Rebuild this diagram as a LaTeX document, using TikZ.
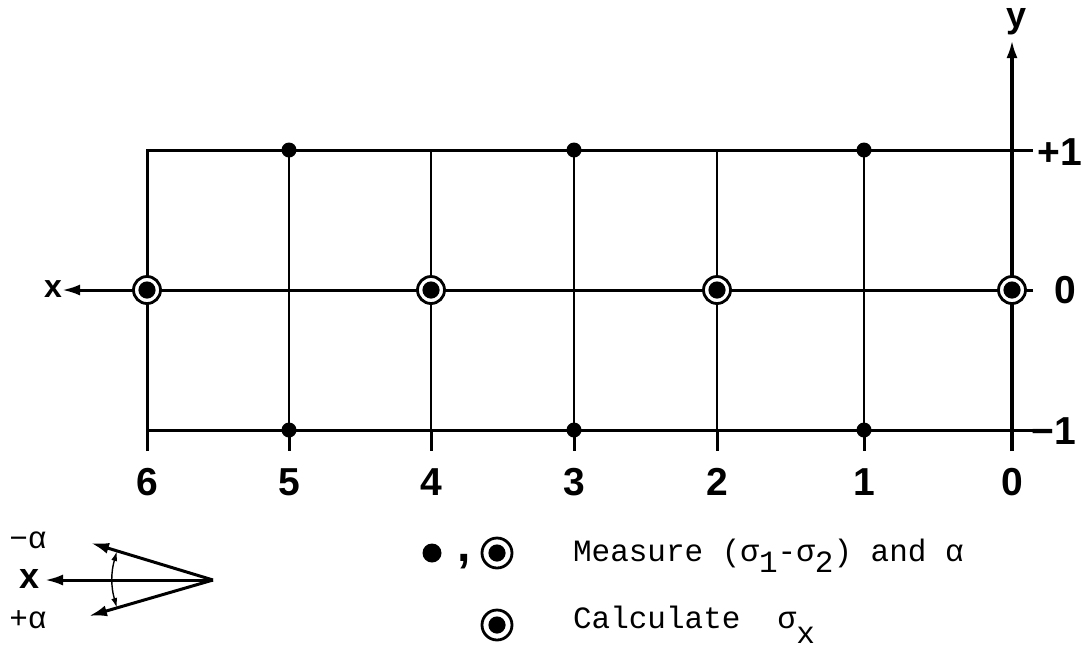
\documentclass[tikz,border=0pt]{standalone}
\usepackage{fontspec}
\setsansfont{Liberation Sans}
\setmonofont{Liberation Mono}
\usetikzlibrary{arrows.meta}

\tikzset{
  axis/.style={line width=1.7pt},
  frame/.style={line width=1.5pt},
  gridline/.style={line width=0.7pt},
  meas/.style={circle,fill,inner sep=0pt,minimum size=7.5pt},
  calcpt/.style={circle,draw,fill=white,line width=1.4pt,inner sep=0pt,minimum size=13.5pt,
    path picture={\fill[black] (path picture bounding box.center) circle (4.3pt);}},
  numlabel/.style={font=\sffamily\bfseries\fontsize{19.5}{19.5}\selectfont},
  axlabel/.style={font=\sffamily\bfseries\fontsize{16}{16}\selectfont},
  legtext/.style={font=\ttfamily\fontsize{15.5}{15.5}\selectfont,anchor=west},
}

\begin{document}
\begin{tikzpicture}[>={Latex[length=9pt,width=5.5pt]},x=0.5pt,y=-0.5pt]
  \useasboundingbox (0,0) rectangle (1088,655);

  \foreach \n/\xp in {6/147,5/289,4/431,3/574,2/717,1/864,0/1012} {
    \coordinate (t\n) at (\xp,150);
    \coordinate (m\n) at (\xp,290);
    \coordinate (b\n) at (\xp,430);
    \coordinate (k\n) at (\xp,451);
    \node[numlabel] (n\n) at (\xp,482) {\n};
  }
  \coordinate (tr) at (1033,150);
  \coordinate (mr) at (1033,290);
  \coordinate (br) at (1033,430);
  \coordinate (xtip) at (62,290);
  \coordinate (ytip) at (1012,40);

  % grid
  \foreach \n in {5,4,3,2,1} {
    \draw[gridline] (t\n) -- (b\n);
    \draw[frame] (b\n) -- (k\n);
  }
  \draw[frame] (k6) -- (t6) -- (tr);
  \draw[frame] (b6) -- (br);
  \draw[->,frame] (mr) -- (xtip);
  \draw[->,axis] (k0) -- (ytip);

  \node[axlabel] (xl) at (53,289) {x};
  \node[axlabel,inner sep=1pt,font=\sffamily\bfseries\fontsize{18}{18}\selectfont] (yl) at (1017,22) {y};
  \node[numlabel] (p1) at (1060,152) {+1};
  \node[numlabel] (z0) at (1065,290) {0};
  \node[numlabel] (m1) at (1054,431) {−1};

  % measuring points
  \foreach \n in {5,3,1} {
    \node[meas] (dt\n) at (t\n) {};
    \node[meas] (db\n) at (b\n) {};
  }
  \foreach \n in {6,4,2,0}
    \node[calcpt] (c\n) at (m\n) {};

  % legend
  \node[meas,minimum size=9.5pt] (lgdot) at (432,553) {};
  \node[font=\sffamily\bfseries\fontsize{24}{24}\selectfont] (lgcomma) at (464,562) {,};
  \node[calcpt,minimum size=15pt] (lgc1) at (497,553) {};
  \node[legtext] (lgmeas) at (566,556) {Measure (σ\raisebox{-.35em}{1}-σ\raisebox{-.35em}{2}) and α};
  \node[calcpt,minimum size=15pt] (lgc2) at (497,625) {};
  \node[legtext] (lgcalc) at (566,625) {Calculate \ σ\raisebox{-.5em}{x}};

  % sign of alpha
  \coordinate (apex) at (213,580);
  \coordinate (ax) at (45,580);
  \coordinate (au) at (91,543);
  \coordinate (al) at (89,616);
  \coordinate (arcu) at (117,551);
  \coordinate (arcl) at (117,608);
  \draw[->,frame] (apex) -- (ax);
  \draw[->,frame] (apex) -- (au);
  \draw[->,frame] (apex) -- (al);
  \draw[<->,gridline,>={Latex[length=5pt,width=3pt]}] (arcu) to[bend right=16] (arcl);
  \node[axlabel,font=\sffamily\bfseries\fontsize{18}{18}\selectfont] (xa) at (30,579) {x};
  \node[legtext,anchor=center] (ma) at (28,540) {−α};
  \node[legtext,anchor=center] (pa) at (28,620) {+α};
\end{tikzpicture}
\end{document}
